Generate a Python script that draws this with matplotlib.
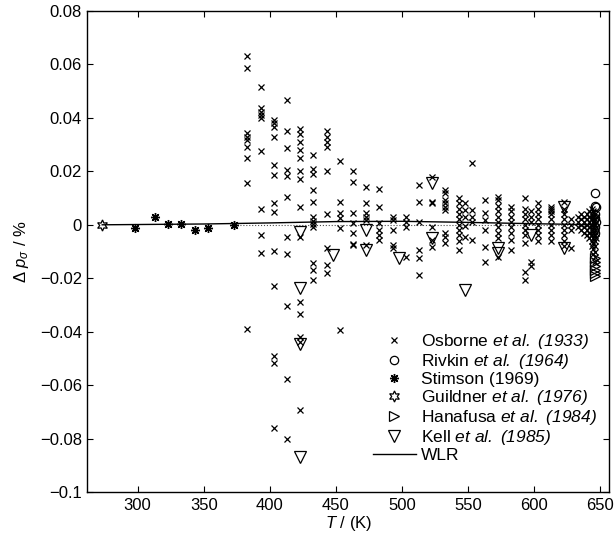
import numpy as np
import matplotlib
matplotlib.use("Agg")
import matplotlib.pyplot as plt
from matplotlib.ticker import FixedLocator, FuncFormatter

# -------- data --------
# Osborne et al. (1933): one line per temperature column
osborne_T = (
    [383] * 9 + [393] * 9 + [403] * 13 + [413] * 11 + [423] * 14 +
    [433] * 12 + [443] * 9 + [453] * 6 + [463] * 7 + [473] * 6 +
    [483] * 6 + [493] * 5 + [503] * 4 + [513] * 6 + [523] * 6 +
    [533] * 9 + [543] * 10 + [548] * 5 + [553] * 5 + [563] * 6 +
    [573] * 10 + [583] * 8 + [593] * 10 + [598] * 5 + [603] * 8 +
    [613] * 9 + [623] * 9 + [628] * 4 + [633] * 3 + [636] * 4 +
    [638] * 4 + [640] * 5 + [642] * 6 + [644] * 8 + [645] * 9 +
    [646] * 10 + [647] * 5
)
osborne_dp = [
    0.063, 0.0588, 0.0342, 0.033, 0.0317, 0.0292, 0.0251, 0.0155, -0.039,
    0.0515, 0.0436, 0.0423, 0.0411, 0.0399, 0.0276, 0.0058, -0.0039, -0.0107,
    0.0392, 0.038, 0.0367, 0.0327, 0.0224, 0.0186, 0.008, 0.0047, -0.0097, -0.0229, -0.0491, -0.0516, -0.076,
    0.0467, 0.0351, 0.0286, 0.0205, 0.0184, 0.0103, -0.0047, -0.0109, -0.0303, -0.0577, -0.080,
    0.031, 0.028, 0.025, 0.020, 0.017, 0.0065, -0.0045, -0.0288, -0.0335, -0.0419, -0.0437, -0.0693, 0.034, 0.036,
    0.026, 0.021, 0.019, 0.013, 0.0086, 0.003, 0.0015, 0.0003, -0.0007, -0.0144, -0.0169, -0.0206,
    0.035, 0.033, 0.031, 0.029, 0.020, 0.004, -0.0088, -0.015, -0.0182,
    0.024, 0.0086, 0.0043, 0.0024, -0.0013, -0.0394,
    0.020, 0.016, 0.0043, 0.0005, -0.003, -0.0072, -0.0076,
    0.0143, 0.0083, 0.0043, 0.003, 0.0018, -0.0075,
    0.0133, 0.0065, 0.0007, -0.002, -0.0038, -0.0057,
    0.003, 0.0018, -0.002, -0.0076, -0.0088,
    0.003, 0.001, -0.0007, -0.012,
    0.0149, 0.0086, 0.0012, -0.0094, -0.0125, -0.0188,
    0.018, 0.0087, 0.008, -0.0007, -0.0057, -0.0082,
    0.013, 0.0118, 0.0093, 0.008, 0.0068, 0.0055, -0.0032, -0.0045, -0.0069,
    0.0099, 0.008, 0.006, 0.004, 0.002, 0.0, -0.002, -0.004, -0.006, -0.0094,
    0.008, 0.0057, 0.003, -0.0005, -0.0045,
    0.023, 0.0057, 0.003, 0.001, -0.0057,
    0.0093, 0.0043, 0.0018, -0.002, -0.0082, -0.0138,
    0.0105, 0.0093, 0.007, 0.005, 0.003, 0.001, -0.001, -0.003, -0.005, -0.012,
    0.0068, 0.005, 0.003, 0.001, -0.001, -0.003, -0.0057, -0.0094,
    0.0099, 0.006, 0.004, 0.002, 0.0, -0.002, -0.004, -0.0069, -0.0176, -0.0207,
    0.005, 0.003, 0.001, -0.0138, -0.0155,
    0.008, 0.006, 0.004, 0.002, 0.0, -0.002, -0.004, -0.006,
    0.0068, 0.006, 0.005, 0.004, 0.002, 0.0, -0.002, -0.004, -0.006,
    0.0087, 0.006, 0.004, 0.002, 0.0, -0.002, -0.004, -0.006, -0.008,
    0.002, 0.0, -0.002, -0.0088,
    0.003, 0.001, -0.001,
    0.004, 0.002, 0.0, -0.002,
    0.003, 0.001, -0.001, -0.003,
    0.004, 0.002, 0.0, -0.002, -0.004,
    0.005, 0.003, 0.001, -0.001, -0.003, -0.005,
    0.006, 0.004, 0.002, 0.0, -0.002, -0.004, -0.006, -0.008,
    0.005, 0.003, 0.001, -0.001, -0.003, -0.005, -0.007, -0.009, -0.011,
    0.004, 0.002, 0.0, -0.002, -0.004, -0.006, -0.008, -0.010, -0.012, -0.014,
    0.003, 0.001, -0.001, -0.003, -0.005,
]

rivkin_T = [646, 646.5, 647, 646, 646.5, 647, 646, 646.5]
rivkin_dp = [0.0118, 0.0072, 0.0066, 0.004, 0.0025, 0.001, -0.001, -0.003]

stimson_T = [298.15, 313.15, 323.15, 333.15, 343.15, 353.15, 373.15]
stimson_dp = [-0.0011, 0.0030, 0.0003, 0.0003, -0.0019, -0.0013, -0.0002]

guildner_T = [273.16]
guildner_dp = [0.0]

hanafusa_T = [646.5, 646.5, 646.5, 646.5, 646.5, 646.5]
hanafusa_dp = [-0.0125, -0.014, -0.0155, -0.017, -0.018, -0.019]

kell_T = [423, 423, 423, 423, 448, 473, 473, 498, 523, 523, 548, 573, 573, 598, 623, 623]
kell_dp = [-0.0026, -0.0238, -0.0446, -0.087, -0.0113, -0.002, -0.0094, -0.0125,
           0.0158, -0.005, -0.0245, -0.0088, -0.0107, -0.0040, 0.0068, -0.0088]

wlr_T = [273.16, 300, 350, 400, 450, 500, 550, 600, 625, 647]
wlr_dp = [0.0, 0.0001, 0.0003, 0.0007, 0.0012, 0.0013, 0.0009, 0.0004, 0.0002, 0.0]

zero_T = [373, 647]
zero_dp = [0.0, 0.0]

x_ticks = [300, 350, 400, 450, 500, 550, 600, 650]
y_ticks = [-0.1, -0.08, -0.06, -0.04, -0.02, 0, 0.02, 0.04, 0.06, 0.08]
# ----------------------

plt.rcParams['font.family'] = ['Liberation Sans', 'DejaVu Sans']
plt.rcParams['mathtext.fontset'] = 'custom'
plt.rcParams['mathtext.rm'] = 'Liberation Sans'
plt.rcParams['mathtext.it'] = 'Liberation Sans:italic'
plt.rcParams['mathtext.bf'] = 'Liberation Sans:italic'   # used for the italic legend parts
plt.rcParams['font.size'] = 12

fig = plt.figure(figsize=(6.16, 5.41), dpi=100)
ax = fig.add_axes([0.142, 0.0906, 0.847, 0.889])

ax.plot(zero_T, zero_dp, ':', color='0.3', linewidth=0.8)

ax.plot(osborne_T, osborne_dp, 'x', color='k', markersize=4.5, markeredgewidth=0.9,
        label=r"Osborne $\mathbf{et\ al.\ (1933)}$")
ax.plot(rivkin_T, rivkin_dp, 'o', color='k', markerfacecolor='none', markersize=6,
        markeredgewidth=0.9, label=r"Rivkin $\mathbf{et\ al.\ (1964)}$")
ax.plot(stimson_T, stimson_dp, marker=(8, 2, 0), linestyle='none', color='k',
        markersize=6.5, markeredgewidth=1.0, label="Stimson (1969)")
ax.plot(guildner_T, guildner_dp, marker=(6, 1, 0), linestyle='none', color='k',
        markerfacecolor='none', markersize=8, markeredgewidth=0.9,
        label=r"Guildner $\mathbf{et\ al.\ (1976)}$")
ax.plot(hanafusa_T, hanafusa_dp, '>', color='k', markerfacecolor='none', markersize=7,
        markeredgewidth=0.9, label=r"Hanafusa $\mathbf{et\ al.\ (1984)}$")
ax.plot(kell_T, kell_dp, 'v', color='k', markerfacecolor='none', markersize=8,
        markeredgewidth=0.9, label=r"Kell $\mathbf{et\ al.\ (1985)}$")
ax.plot(wlr_T, wlr_dp, '-', color='k', linewidth=1.0, label="WLR")

ax.set_xlim(262, 657)
ax.set_ylim(-0.1, 0.08)
ax.xaxis.set_major_locator(FixedLocator(x_ticks))
ax.yaxis.set_major_locator(FixedLocator(y_ticks))
ax.yaxis.set_major_formatter(FuncFormatter(lambda v, p: ('%g' % round(v, 3)).replace('-', '\u2212')))
ax.tick_params(direction='in', top=True, right=True, length=4, width=0.8, labelsize=12, pad=4)
for s in ax.spines.values():
    s.set_linewidth(1.0)

ax.set_xlabel(r"$T$ / (K)", labelpad=1)
ax.set_ylabel(r"$\Delta\ p_\sigma$ / %", labelpad=6)

ax.legend(loc='lower right', bbox_to_anchor=(1.0, 0.035), frameon=False,
          handlelength=2.5, handletextpad=0.3, labelspacing=0.05, borderpad=0.2,
          fontsize=12.5)

fig.savefig("out.png", dpi=100)
